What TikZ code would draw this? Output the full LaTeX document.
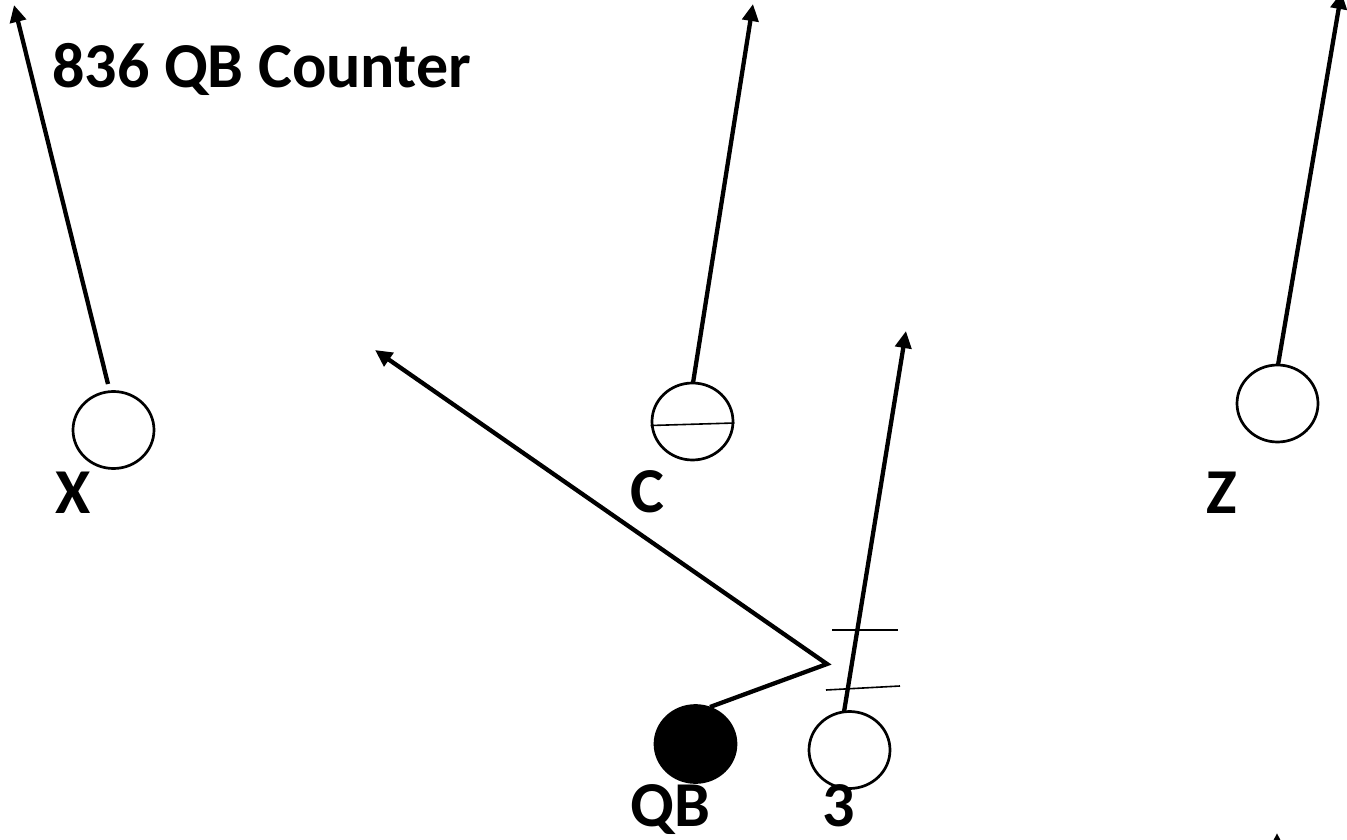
\documentclass[tikz,border=0pt]{standalone}
\usepackage{fontspec}
\setmainfont{Carlito}
\usetikzlibrary{arrows.meta,shapes.geometric,calc}

\tikzset{
  player/.style={draw, ellipse, line width=2.7pt, minimum width=81pt, minimum height=77pt, inner sep=0pt},
  route/.style={line width=4.3pt, -{Triangle[length=17pt,width=16pt]}},
  tickline/.style={line width=1.6pt},
  lbl/.style={anchor=base west, inner sep=0pt, text depth=0pt, font=\fontsize{64}{72}\selectfont\bfseries}
}

\begin{document}
\begin{tikzpicture}[x=1pt,y=-1pt]
\useasboundingbox (0,0) rectangle (1347,840);
\clip (0,0) rectangle (1347,840);

\node[lbl] (title) at (52,88) {836 QB Counter};

% receivers and backs
\node[player] (X) at (113.5,430) {};
\node[player] (C) at (692.5,421.5) {};
\node[player] (Z) at (1277.5,403.5) {};
\node[player, fill=black] (QB) at (695.5,744) {};
\node[player] (B3) at (849.5,750) {};

\node[lbl] (Xl) at (55,513) {X};
\node[lbl] (Cl) at (630,512) {C};
\node[lbl] (Zl) at (1206,513) {Z};
\node[lbl] (QBl) at (630,826) {QB};
\node[lbl] (B3l) at (822,826) {3};

% route points
\coordinate (x0) at (108,384);
\coordinate (x1) at (14,5);
\coordinate (c0) at (693,383);
\coordinate (c1) at (753,4);
\coordinate (z0) at (1278,365);
\coordinate (z1) at (1341.5,-8);
\coordinate (q0) at (710,707);
\coordinate (q1) at (827,664);
\coordinate (q2) at (375,350);
\coordinate (t0) at (844,712);
\coordinate (t1) at (906,331);
\coordinate (b0) at (1277,880);
\coordinate (b1) at (1277,833);

\draw [route] (x0) -- (x1);
\draw [route] (c0) -- (c1);
\draw [route] (z0) -- (z1);
\draw [route] (t0) -- (t1);
\draw [route] (q0) -- (q1) -- (q2);
\draw [route] (b0) -- (b1);

\draw [tickline] ($(C.west)+(0,4)$) -- ($(C.east)+(0,1.5)$);
\draw [tickline] (832,630) -- (898,630);
\draw [tickline] (826,690) -- (900,686);
\end{tikzpicture}
\end{document}
